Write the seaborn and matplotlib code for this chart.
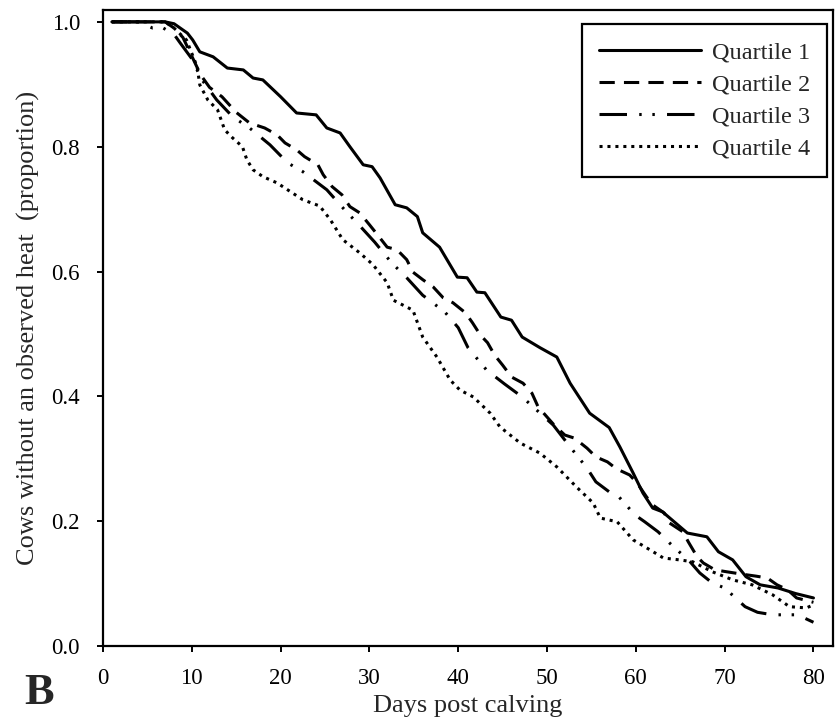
import matplotlib
matplotlib.use("Agg")
import matplotlib.pyplot as plt
import seaborn as sns

# Days post calving / proportion of cows without an observed heat, per quartile
q1_days = [1, 7, 8, 8.7, 9.5, 10.1, 10.9, 12.4, 14, 15.8, 16.9, 18, 20, 21.8, 24, 25.2, 26.7, 27.8,
           29.3, 30.3, 31.2, 32.9, 34.2, 35.4, 36, 37.9, 39.9, 41, 42.1, 43, 44.8, 46, 47.2, 49.2,
           51.1, 52.6, 54.8, 57, 58.2, 59.7, 60.8, 61.9, 63, 65.8, 68, 69.3, 70.9, 72.4, 74, 76, 78, 80]
q1_vals = [1.0, 1.0, 0.997, 0.99, 0.982, 0.971, 0.952, 0.944, 0.926, 0.923, 0.91, 0.907, 0.88, 0.854,
           0.851, 0.83, 0.822, 0.8, 0.771, 0.768, 0.75, 0.707, 0.702, 0.688, 0.662, 0.639, 0.591, 0.59,
           0.567, 0.566, 0.527, 0.522, 0.495, 0.478, 0.463, 0.421, 0.373, 0.35, 0.319, 0.277, 0.245,
           0.221, 0.215, 0.181, 0.175, 0.151, 0.138, 0.111, 0.098, 0.093, 0.084, 0.077]

q2_days = [1, 7, 8, 9, 10, 11, 12, 13.4, 15, 16.5, 18.2, 19.6, 20.5, 21.8, 22.7, 24.2, 24.8, 25.8,
           26.9, 27.8, 28.9, 30, 30.9, 32, 33.1, 34.2, 34.9, 36, 37.2, 38.3, 39.4, 40.8, 41.6, 42.5,
           43.3, 44.1, 45, 46, 47.3, 48.3, 49, 50.8, 52, 53.1, 54.5, 55.5, 56.8, 57.8, 59.3, 60.1,
           61.2, 61.9, 63.2, 63.8, 65.3, 65.9, 66.9, 67.6, 68.9, 70.2, 72, 73.5, 74.8, 75.9, 77.1,
           78.1, 80]
q2_vals = [1.0, 1.0, 0.99, 0.975, 0.945, 0.915, 0.895, 0.88, 0.855, 0.838, 0.83, 0.819, 0.806, 0.795,
           0.784, 0.771, 0.755, 0.736, 0.723, 0.704, 0.694, 0.675, 0.659, 0.639, 0.635, 0.619, 0.599,
           0.587, 0.575, 0.558, 0.55, 0.534, 0.518, 0.498, 0.486, 0.466, 0.45, 0.431, 0.421, 0.405,
           0.383, 0.354, 0.338, 0.333, 0.317, 0.303, 0.295, 0.284, 0.274, 0.262, 0.239, 0.226, 0.213,
           0.197, 0.183, 0.167, 0.143, 0.133, 0.122, 0.119, 0.115, 0.112, 0.109, 0.098, 0.09, 0.077,
           0.07]

q3_days = [1, 4, 5.6, 6.8, 8, 8.7, 10.1, 11, 12.8, 14.6, 16.5, 18.8, 20.8, 22.5, 25.2, 27.2, 28.8,
           30.6, 32.5, 34.2, 36, 38.5, 40, 41.1, 43.2, 45.2, 47.2, 50.7, 52.6, 54.5, 55.5, 57, 57.9,
           59.9, 61, 62.5, 63.8, 66.1, 67.2, 68.6, 70, 72.3, 73.7, 75.4, 77.1, 78.2, 80]
q3_vals = [1.0, 1.0, 0.99, 0.99, 0.98, 0.966, 0.939, 0.91, 0.875, 0.848, 0.83, 0.803, 0.774, 0.76,
           0.731, 0.699, 0.675, 0.647, 0.614, 0.59, 0.562, 0.535, 0.51, 0.478, 0.442, 0.42, 0.399,
           0.354, 0.319, 0.285, 0.263, 0.247, 0.242, 0.21, 0.199, 0.183, 0.165, 0.135, 0.117, 0.101,
           0.093, 0.063, 0.054, 0.05, 0.05, 0.05, 0.038]

q4_days = [1, 7, 8, 9.4, 10.6, 10.9, 11.8, 12.9, 13.7, 14.6, 15.7, 16.2, 16.9, 18, 19.6, 21.1, 22.5,
           24.4, 25.6, 27, 28.9, 30.4, 32, 32.7, 33.8, 34.9, 36, 37.6, 39.1, 40.2, 41.7, 43.6, 44.7,
           47, 49.2, 51.1, 53.3, 55.2, 56, 57.9, 59.7, 61.6, 63.1, 64.9, 66.4, 68.6, 70.9, 73.1, 75.4,
           77.3, 79.2, 80]
q4_vals = [1.0, 1.0, 0.99, 0.971, 0.928, 0.899, 0.875, 0.859, 0.827, 0.814, 0.8, 0.779, 0.763, 0.752,
           0.742, 0.728, 0.715, 0.705, 0.683, 0.651, 0.63, 0.611, 0.582, 0.554, 0.546, 0.538, 0.495,
           0.463, 0.426, 0.41, 0.399, 0.373, 0.351, 0.325, 0.309, 0.287, 0.255, 0.229, 0.205, 0.199,
           0.17, 0.154, 0.141, 0.138, 0.135, 0.119, 0.106, 0.098, 0.082, 0.063, 0.061, 0.066]

labels = ["Quartile 1", "Quartile 2", "Quartile 3", "Quartile 4"]
xticks = [0, 10, 20, 30, 40, 50, 60, 70, 80]
yticks = [0.0, 0.2, 0.4, 0.6, 0.8, 1.0]

sns.set_style("ticks")
plt.rcParams["font.family"] = ["Liberation Serif", "DejaVu Serif"]

fig = plt.figure(figsize=(8.35, 7.24), dpi=100)
ax = fig.add_axes([103 / 835, 1 - 646 / 724, 730 / 835, 636 / 724])

styles = ["-", (0, (5, 3)), (0, (9, 4, 0.8, 3.5, 0.8, 4)), (0, (1, 1.6))]
series = [(q1_days, q1_vals), (q2_days, q2_vals), (q3_days, q3_vals), (q4_days, q4_vals)]
for (d, v), lab, ls in zip(series, labels, styles):
    sns.lineplot(x=d, y=v, ax=ax, color="black", lw=2.2, linestyle=ls, label=lab,
                 estimator=None, sort=False)

ax.set_xlim(0, 82.2)
ax.set_ylim(0, 1.019)
ax.set_xticks(xticks)
ax.set_yticks(yticks)
ax.set_yticklabels([f"{t:.1f}" for t in yticks])
for s in ax.spines.values():
    s.set_linewidth(1.6)
    s.set_color("black")
ax.tick_params(direction="out", length=4.5, width=1.4, labelsize=16.5, colors="black")
ax.tick_params(axis="x", pad=11)
ax.tick_params(axis="y", pad=12)

ax.set_xlabel("Days post calving", fontsize=19, labelpad=5)
ax.set_ylabel("Cows without an observed heat  (proportion)", fontsize=19, labelpad=8)

leg = ax.legend(loc="upper right", bbox_to_anchor=(0.9918, 0.978), borderaxespad=0,
                fontsize=17.5, handlelength=4.2, handletextpad=0.45, labelspacing=0.42,
                fancybox=False, framealpha=1, edgecolor="black", borderpad=0.7)
leg.get_frame().set_linewidth(1.6)

fig.text(39 / 835, 1 - 693 / 724, "B", fontsize=32, fontweight="bold", ha="center", va="center")

fig.savefig("out.png", dpi=100)
